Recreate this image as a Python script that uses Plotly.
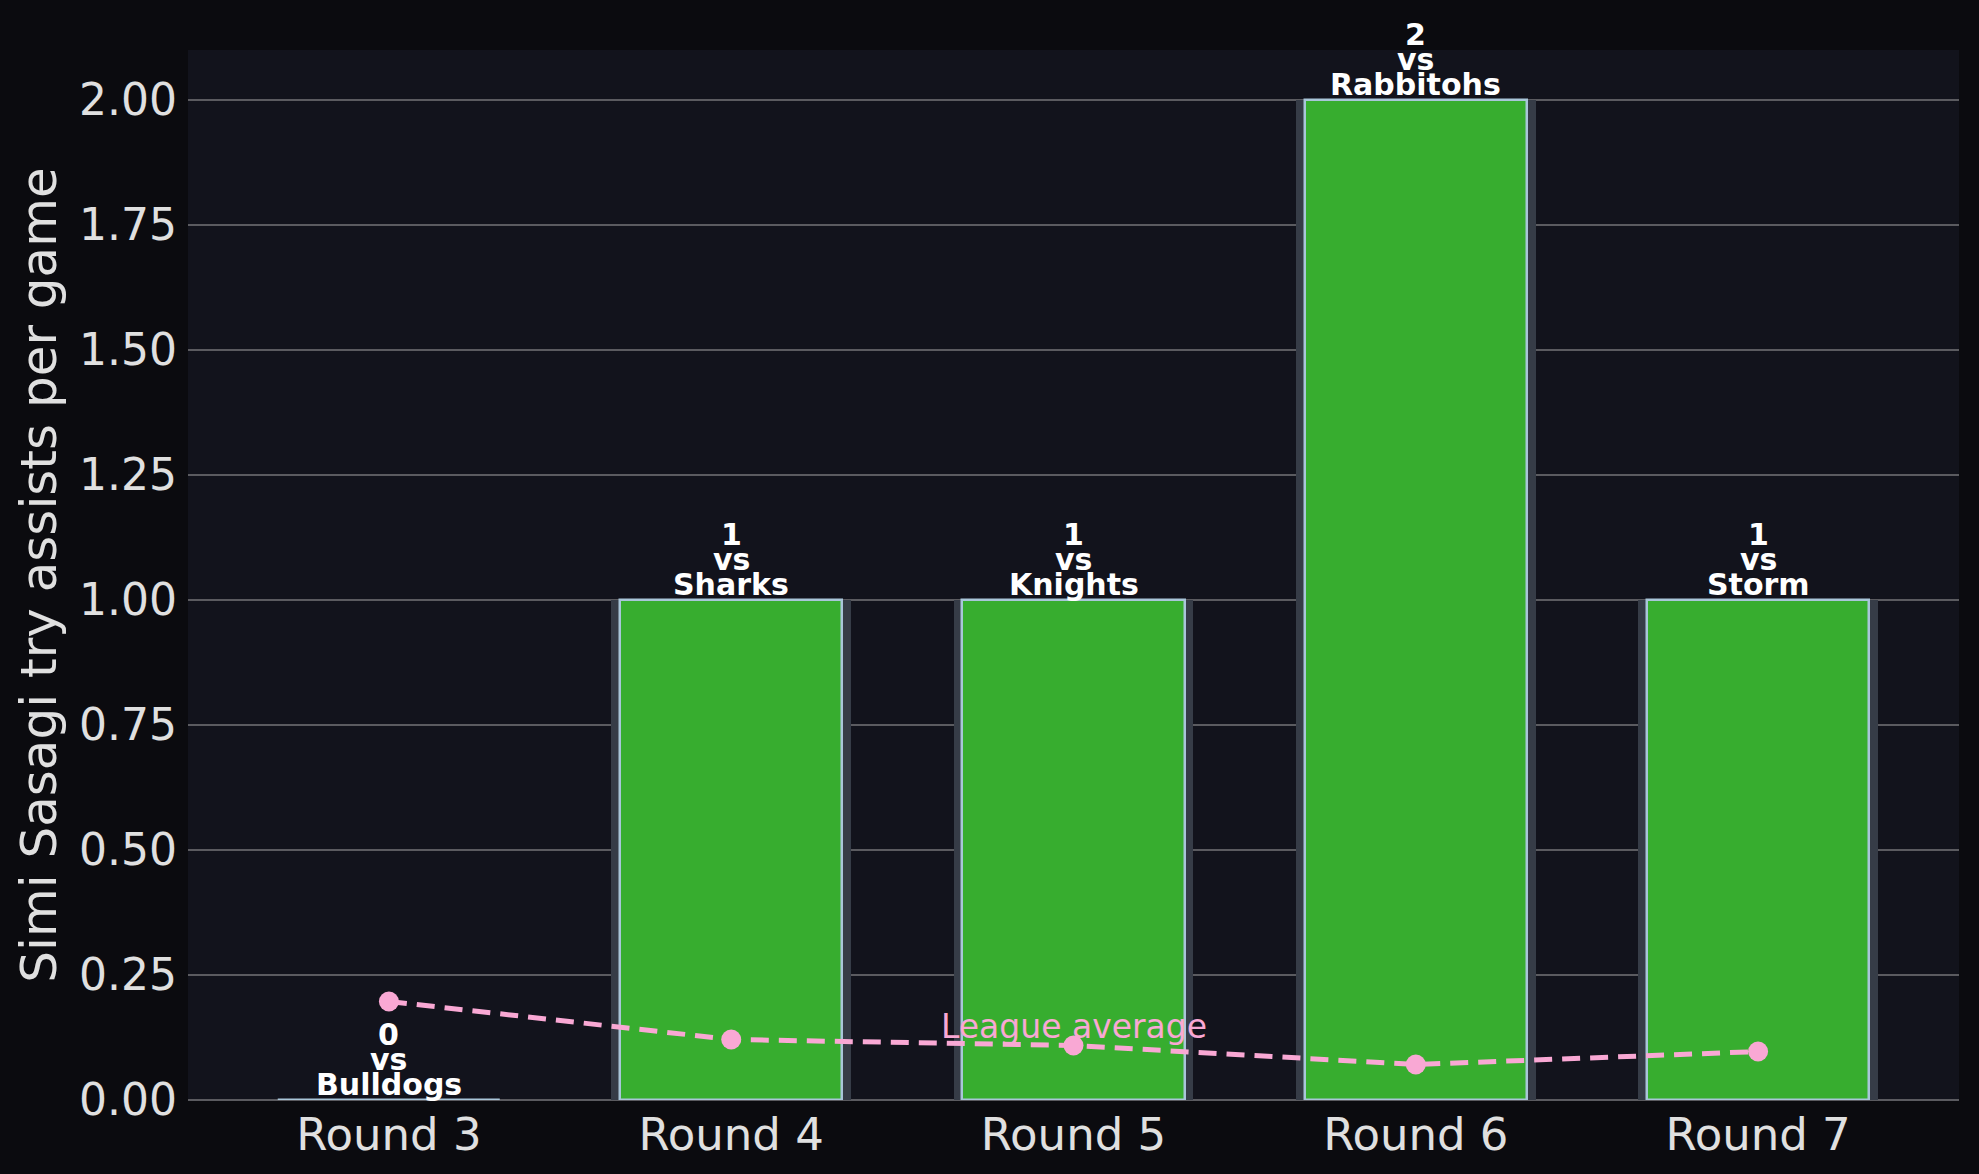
import plotly.graph_objects as go

rounds = ["Round 3", "Round 4", "Round 5", "Round 6", "Round 7"]
opponents = ["Bulldogs", "Sharks", "Knights", "Rabbitohs", "Storm"]
try_assists = [0, 1, 1, 2, 1]
league_average = [0.197, 0.121, 0.109, 0.071, 0.097]
y_ticks = [0, 0.25, 0.5, 0.75, 1.0, 1.25, 1.5, 1.75, 2.0]

FONT = "DejaVu Sans"
x_idx = list(range(len(rounds)))

fig = go.Figure()

# shadow bars
fig.add_trace(go.Bar(
    x=x_idx, y=try_assists, width=0.70,
    marker=dict(color="#363c47", line=dict(width=0)),
    hoverinfo="skip", showlegend=False,
))
# main bars
fig.add_trace(go.Bar(
    x=x_idx, y=try_assists, width=0.65,
    marker=dict(color="#37ad2f", line=dict(color="#a9c6d9", width=2.5)),
    showlegend=False,
))
# league average line
fig.add_trace(go.Scatter(
    x=x_idx, y=league_average, mode="lines+markers",
    line=dict(color="#f9a8d4", width=5, dash="18px,10px"),
    marker=dict(color="#f9a8d4", size=20),
    showlegend=False,
))

annotations = []
for i, (v, opp) in enumerate(zip(try_assists, opponents)):
    for text, shift in [(opp, -3), ("vs", 22), (str(v), 47)]:
        annotations.append(dict(
            x=i, y=v, xref="x", yref="y", text=f"<b>{text}</b>",
            showarrow=False, yanchor="bottom", xanchor="center",
            yshift=shift, borderpad=0,
            font=dict(family=FONT, size=30, color="#ffffff"),
        ))

annotations.append(dict(
    x=2, y=0.147, xref="x", yref="y", text="League average",
    showarrow=False, yanchor="middle", xanchor="center", borderpad=0,
    font=dict(family=FONT, size=33, color="#f9a8d4"),
))

fig.update_layout(
    width=1979, height=1174,
    margin=dict(l=188, r=20, t=50, b=74),
    paper_bgcolor="#0b0b0f",
    plot_bgcolor="#12131c",
    barmode="overlay",
    bargap=0,
    font=dict(family=FONT, color="#dddddd"),
    annotations=annotations,
    xaxis=dict(
        range=[-0.587, 4.587],
        tickmode="array", tickvals=x_idx, ticktext=rounds,
        showgrid=False, zeroline=False, showline=False,
        tickfont=dict(family=FONT, size=45, color="#e0e0e0"),
        ticks="", ticklabelstandoff=4,
    ),
    yaxis=dict(
        range=[0, 2.1],
        tickmode="array", tickvals=y_ticks,
        ticktext=[f"{t:.2f}" for t in y_ticks],
        showgrid=True, gridcolor="#5b5b60", gridwidth=2,
        zeroline=True, zerolinecolor="#5b5b60", zerolinewidth=2,
        showline=False, ticks="", ticklabelstandoff=10,
        tickfont=dict(family=FONT, size=44, color="#e0e0e0"),
        title=dict(text="Simi Sasagi try assists per game", standoff=6,
                   font=dict(family=FONT, size=50, color="#e0e0e0")),
        automargin=False,
    ),
)

fig.write_html(
    "out.html",
    config={"displayModeBar": False},
    post_script="document.body.style.margin='0';document.body.style.overflow='hidden';",
)
